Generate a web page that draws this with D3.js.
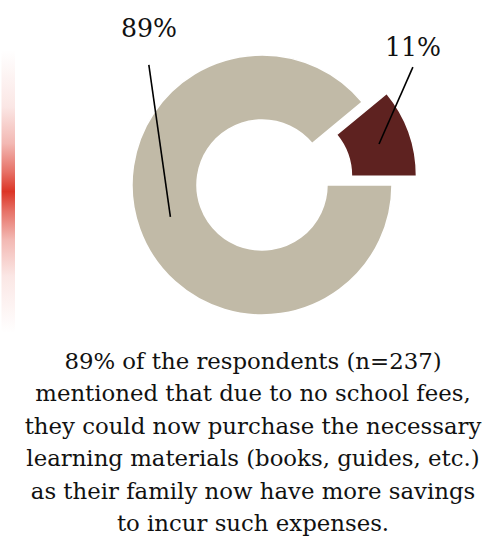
<!DOCTYPE html>
<html>
<head>
<meta charset="utf-8">
<script src="https://cdn.jsdelivr.net/npm/d3@7"></script>
<style>
  html, body { margin: 0; padding: 0; background: #fff; }
  svg { display: block; }
</style>
</head>
<body>
<svg id="chart" width="492" height="536"></svg>
<script>
// Share of respondents, drawn as a donut with the smaller slice pulled out
const categories = ["Could purchase learning materials", "Other"];
const values = [89, 11];
const labels = ["89%", "11%"];
const colors = ["#C1BAA7", "#5E2220"];
const captionLines = [
  "89% of the respondents (n=237)",
  "mentioned that due to no school fees,",
  "they could now purchase the necessary",
  "learning materials (books, guides, etc.)",
  "as their family now have more savings",
  "to incur such expenses."
];

const svg = d3.select("#chart");
const serif = "'DejaVu Serif', serif";

// Decorative vertical accent bar on the left edge
const defs = svg.append("defs");
const grad = defs.append("linearGradient")
  .attr("id", "accent").attr("x1", 0).attr("y1", 0).attr("x2", 0).attr("y2", 1);
[[0, 0], [0.2, 0.12], [0.33, 0.35], [0.43, 0.7], [0.5, 1],
 [0.57, 0.7], [0.67, 0.35], [0.8, 0.12], [1, 0]].forEach(([o, a]) => {
  grad.append("stop").attr("offset", o).attr("stop-color", "#DC3526").attr("stop-opacity", a);
});
svg.append("rect").attr("x", 1.5).attr("y", 50).attr("width", 13.5).attr("height", 283)
  .attr("fill", "url(#accent)");

// Donut
const cx = 262, cy = 185, rOuter = 130, rInner = 65;
const pie = d3.pie().sort(null).value(d => d)
  .startAngle(Math.PI / 2).endAngle(Math.PI / 2 + 2 * Math.PI);
const arcs = pie(values);
const arc = d3.arc().innerRadius(rInner).outerRadius(rOuter);
const explode = [0, 26];
const offset = (d, i) => {
  const m = (d.startAngle + d.endAngle) / 2;
  return [explode[i] * Math.sin(m), -explode[i] * Math.cos(m)];
};

const g = svg.append("g").attr("transform", `translate(${cx},${cy})`);
g.selectAll("path.slice").data(arcs).join("path")
  .attr("class", "slice")
  .attr("transform", (d, i) => `translate(${offset(d, i)})`)
  .attr("d", arc)
  .attr("fill", (d, i) => colors[i])
  .attr("stroke", "#fff")
  .attr("stroke-width", 1.5);

// Leader lines (polar, from each slice's own centre) and percentage labels
const leaderSpec = [
  { r1: 97, a1: 250.8, r2: 165, a2: 316.7, tx: 149, ty: 37 },
  { r1: 98, a1: 70.8, r2: 167, a2: 49.2, tx: 413, ty: 56 }
];
const polar = (r, deg) => [r * Math.sin(deg * Math.PI / 180), -r * Math.cos(deg * Math.PI / 180)];
const labelText = [];
arcs.forEach((d, i) => {
  const s = leaderSpec[i];
  const [ox, oy] = offset(d, i);
  const p1 = polar(s.r1, s.a1), p2 = polar(s.r2, s.a2);
  g.append("line")
    .attr("x1", ox + p1[0]).attr("y1", oy + p1[1])
    .attr("x2", ox + p2[0]).attr("y2", oy + p2[1])
    .attr("stroke", "#000").attr("stroke-width", 1.6);
  labelText.push(svg.append("text")
    .attr("x", s.tx).attr("y", s.ty)
    .attr("text-anchor", "middle")
    .attr("font-family", serif)
    .attr("font-size", 24)
    .attr("fill", "#111")
    .text(labels[i]));
});
// Scale the percentage labels to their intended width
const w89 = labelText[0].node().getComputedTextLength();
labelText.forEach(t => t.attr("font-size", 24 * 56 / w89));

// Caption below the chart
const caption = svg.append("text")
  .attr("text-anchor", "middle")
  .attr("font-family", serif)
  .attr("fill", "#111");
caption.selectAll("tspan").data(captionLines).join("tspan")
  .attr("x", 253)
  .attr("y", (d, i) => 369 + i * 32.4)
  .text(d => d);

// Size the caption so its widest line spans the column width
caption.attr("font-size", 24);
const widest = d3.max(caption.selectAll("tspan").nodes(), n => n.getComputedTextLength());
caption.attr("font-size", 24 * 457 / widest);
</script>
</body>
</html>
